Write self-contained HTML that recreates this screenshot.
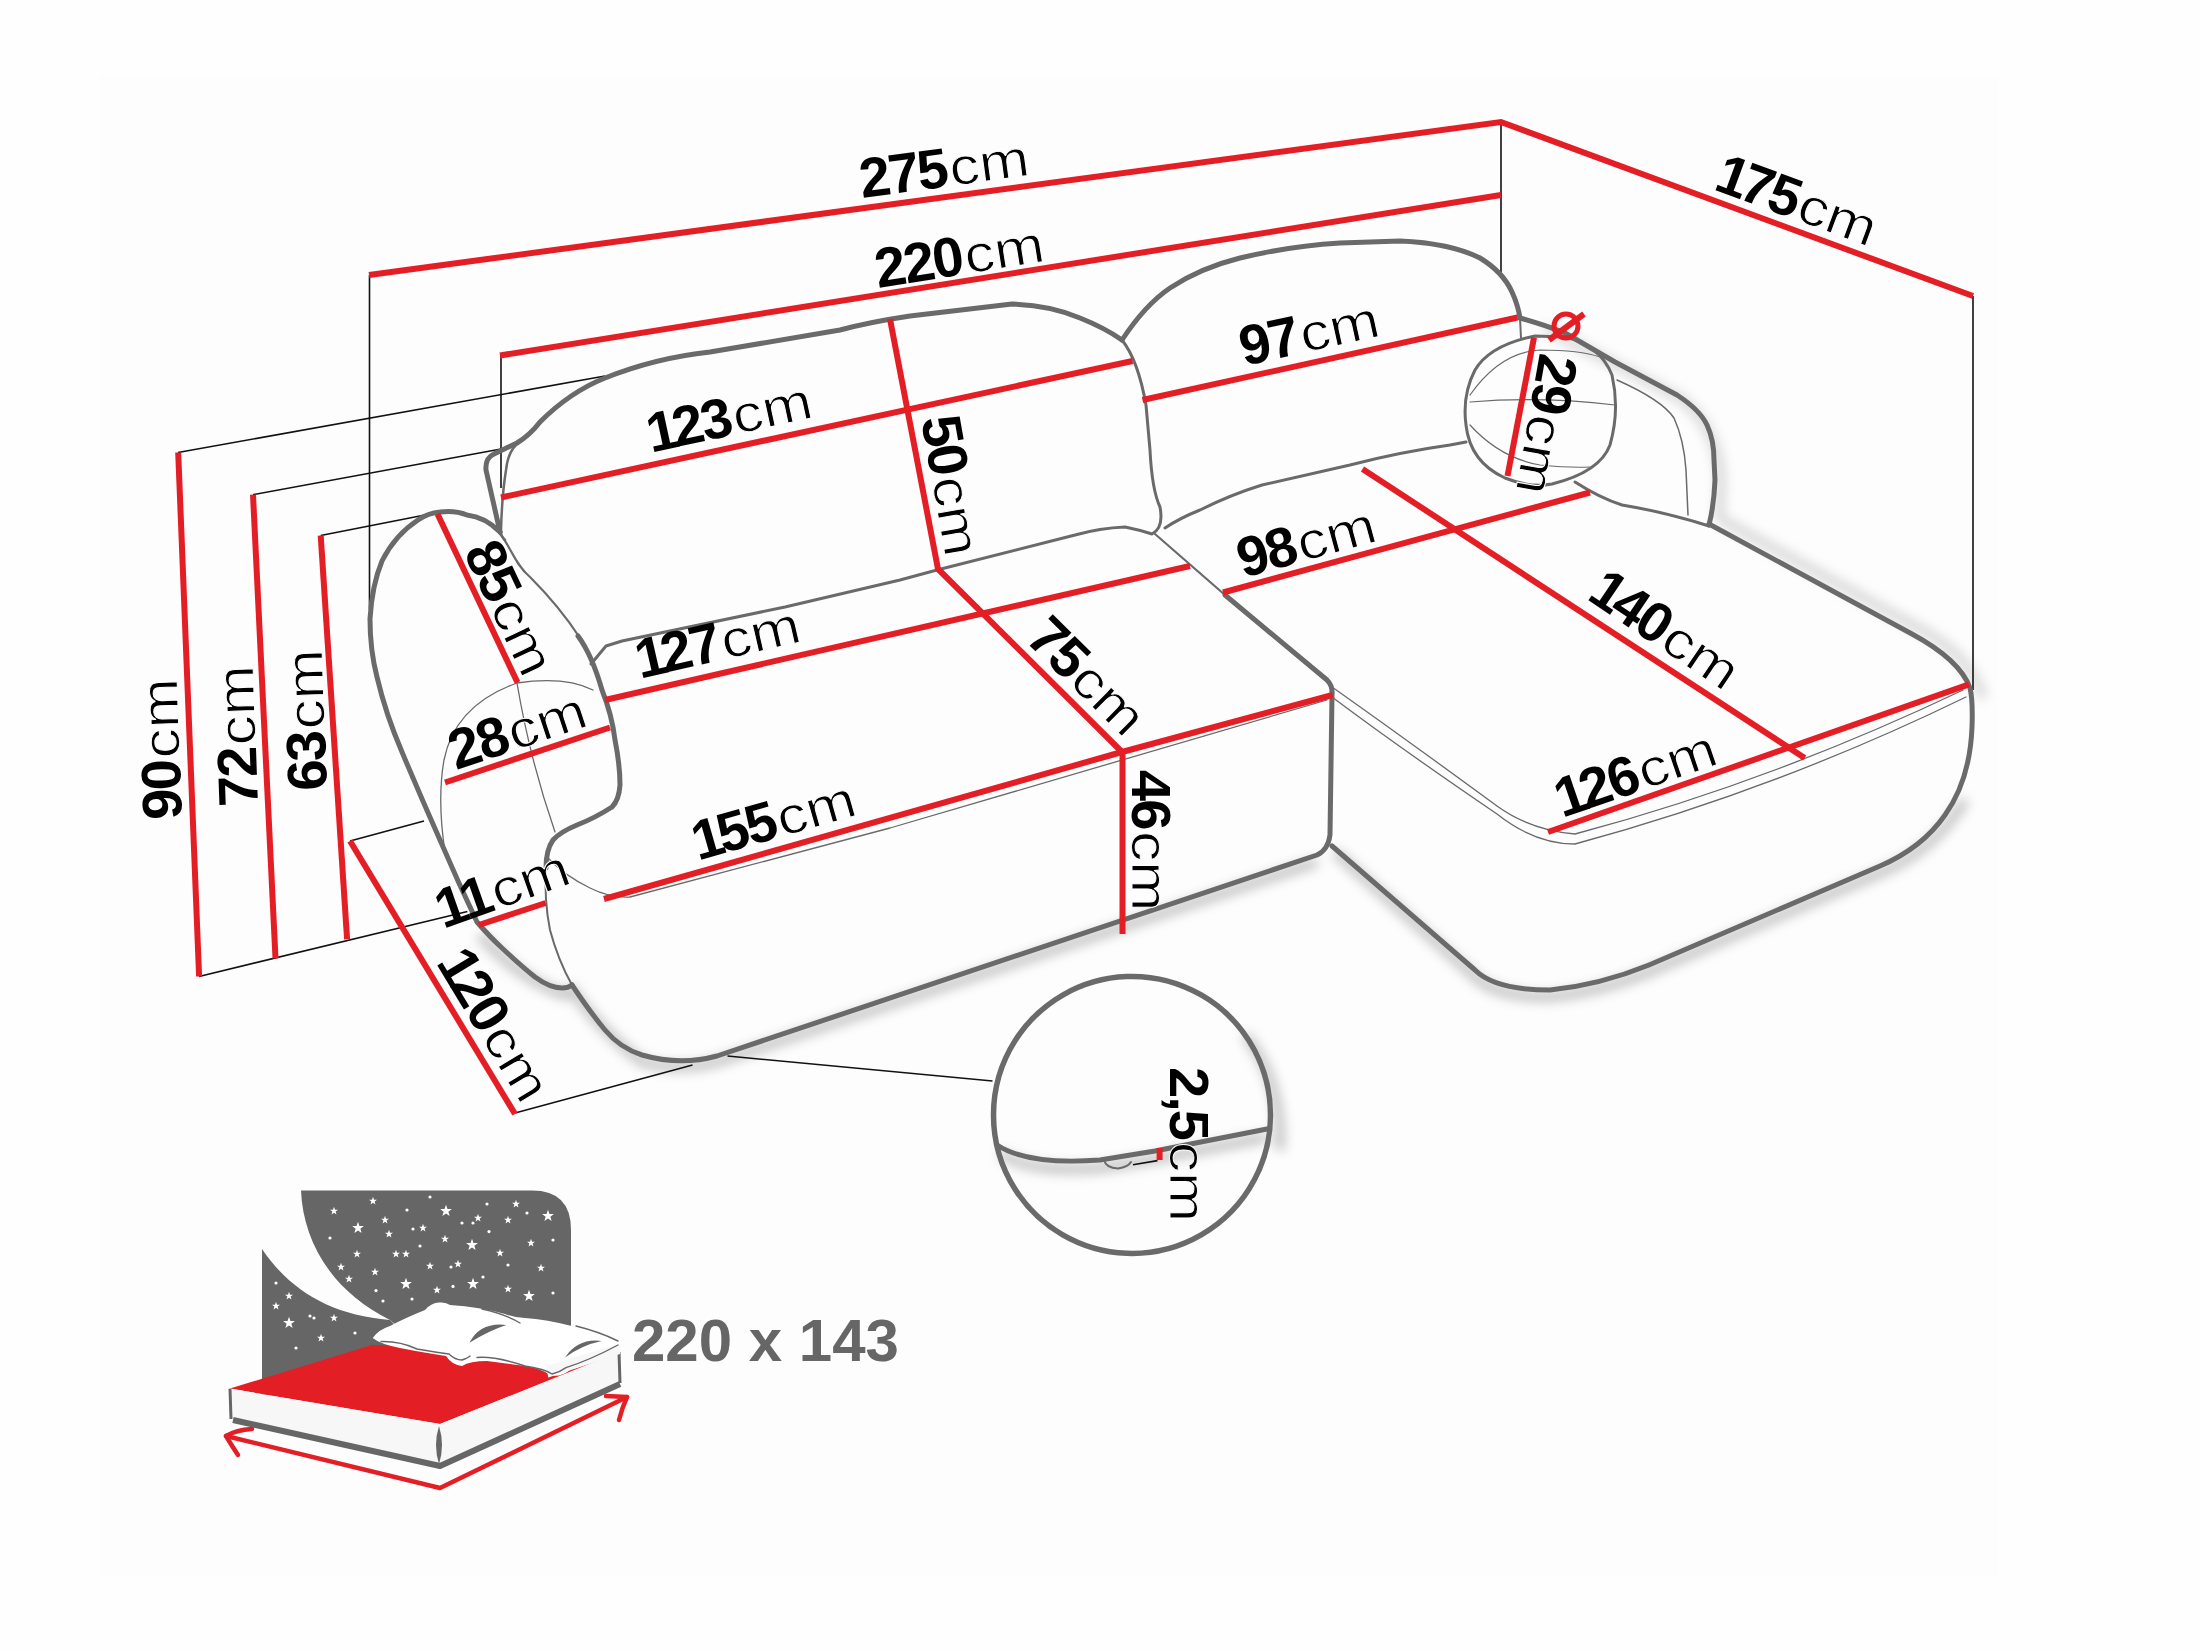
<!DOCTYPE html>
<html><head><meta charset="utf-8">
<style>
html,body{margin:0;padding:0;background:#fff;}
svg{display:block;}
</style></head>
<body>
<svg width="2200" height="1650" viewBox="0 0 2200 1650">
<defs>
<filter id="sh" x="-30%" y="-30%" width="160%" height="160%"><feGaussianBlur stdDeviation="6"/></filter>
</defs>
<rect x="0" y="0" width="2200" height="1650" fill="#fefefe"/>
<rect x="99" y="75" width="1899" height="1501" fill="#fdfdfd"/>

<g fill="none" stroke="#000" stroke-width="9" filter="url(#sh)">
<path stroke-opacity="0.25" d="M 480,935 Q 520,980 565,995 L 572,990 Q 600,1030 642,1062 Q 680,1072 717,1062 L 1317,862"/>
<path stroke-opacity="0.25" d="M 1335,852 L 1475,977 Q 1495,997 1550,997 Q 1600,992 1649,972 L 1880,873 Q 1935,850 1965,800"/>
<path stroke-opacity="0.25" d="M 1000,1153 C 1020,1168 1060,1171 1100,1168 L 1155,1159 L 1267,1137"/>
<path stroke-opacity="0.25" d="M 1245,1035 Q 1282,1080 1280,1150"/>
<path stroke-opacity="0.16" d="M 1545,328 L 1680,398 Q 1718,428 1721,480 L 1719,520"/>
<path stroke-opacity="0.16" d="M 1722,520 L 1918,628 Q 1970,655 1983,698"/>
</g>
<g stroke="#111" stroke-width="1.6" fill="none"><line x1="369.5" y1="275" x2="369.5" y2="609"/><line x1="501" y1="355" x2="501" y2="488"/><line x1="1501" y1="122" x2="1501" y2="272"/><line x1="1973" y1="296" x2="1973" y2="690"/><line x1="178" y1="452.5" x2="605" y2="376"/><line x1="253" y1="494.7" x2="501" y2="449"/><line x1="320.7" y1="535.5" x2="430" y2="514"/><line x1="199" y1="976.5" x2="467.4" y2="911.5"/><line x1="350" y1="841" x2="424" y2="821"/><line x1="515" y1="1113" x2="692.5" y2="1065"/><line x1="727.5" y1="1056" x2="992.5" y2="1081"/><line x1="1133" y1="1164.7" x2="1157.5" y2="1160.6"/></g>
<g fill="none" stroke="#6a6a6a" stroke-linecap="round" stroke-linejoin="round">
<path stroke-width="5" d="M 500,532 Q 485,517 467,515 Q 455,510 440,512 Q 428,513 418,520 Q 395,535 382,561 Q 372,585 370,619 Q 370,650 377,677 Q 386,715 402,752 Q 420,795 440,840 Q 458,882 477,922 Q 490,937 502,948 Q 520,965 535,977 Q 550,988 562,988 Q 568,988 572,985"/>
<path stroke-width="2.2" d="M 500,534 C 510,545 515,565 530,577 C 545,592 565,615 580,638"/>
<path stroke-width="5" d="M 578,636 Q 592,655 602,690 Q 612,715 615,740 Q 620,765 620,785 Q 619,800 612,807 Q 595,818 577,825 Q 560,832 553,840 Q 546,850 546,868"/>
<path stroke-width="2" d="M 546,866 Q 544,900 550,930 Q 558,960 572,985"/>
<path stroke-width="5" d="M 572,985 Q 590,1012 605,1030 Q 620,1048 642,1055 Q 680,1066 717,1056 L 1317,855 Q 1328,850 1330,835 L 1332,695 Q 1333,686 1327,680 L 1225,595"/>
<path stroke-width="2.2" d="M 1225,595 L 1155,534"/>
<path stroke-width="5" d="M 1709,524 L 1912,634 Q 1960,660 1970,688 Q 1973,700 1972,727 Q 1970,780 1945,815 Q 1922,848 1880,866 L 1649,965 Q 1600,985 1550,990 Q 1495,990 1475,970 L 1332,846"/>
<path stroke-width="5" d="M 1520,318 Q 1545,325 1565,333 L 1615,362 L 1677,395 Q 1700,410 1707,425 Q 1714,440 1714,460 L 1715,480 Q 1714,505 1709,525"/>
<path stroke-width="5" d="M 1122,340 Q 1145,305 1170,288 Q 1200,268 1240,258 Q 1290,246 1340,243 L 1400,241 Q 1450,243 1480,258 Q 1503,272 1512,292 Q 1518,305 1520,318"/>
<path stroke-width="5" d="M 500,532 L 486,470 Q 485,458 494,454 L 517,443 Q 530,435 540,422 Q 570,392 605,378 Q 655,358 710,352 L 840,330 Q 870,322 910,316 L 1012,304 Q 1050,305 1080,318 Q 1105,328 1122,340"/>
<path stroke-width="2.5" d="M 517,444 Q 508,452 506,470 Q 502,495 501,530 Q 500,535 505,540"/>
<path stroke-width="3" d="M 1122,340 Q 1138,360 1146,405 L 1150,450 Q 1152,490 1160,507 Q 1164,528 1152,534 Q 1140,530 1125,527 Q 1100,528 1075,535 L 937,570 L 900,580 Q 850,592 785,607 L 622,641 L 606,646 L 591,664"/>
<path stroke-width="3" d="M 1165,528 Q 1180,518 1200,510 Q 1230,495 1262,485 L 1350,465 Q 1400,452 1450,445 L 1466,442"/>
<path stroke-width="2" d="M 1520,318 L 1521,338"/>
<path stroke-width="1.5" d="M 1617,380 Q 1662,400 1674,418 Q 1684,440 1686,470 L 1688,515"/>
<path stroke-width="3" d="M 1575,482 Q 1600,498 1622,505 Q 1665,512 1709,526"/>
<path stroke-width="3" d="M 1535,336 Q 1490,345 1475,370 Q 1462,395 1466,425 Q 1470,462 1505,478 Q 1530,488 1552,484 Q 1600,472 1610,445 Q 1620,410 1612,375 Q 1600,345 1565,337 Z"/>
<path stroke-width="1.2" d="M 1470,402 Q 1540,396 1615,405"/>
<path stroke-width="1.2" d="M 1470,395 Q 1500,352 1540,350 Q 1580,350 1600,357"/>
<path stroke-width="1.2" d="M 1470,425 Q 1500,458 1540,465 Q 1570,468 1590,467"/>
<path stroke-width="1.3" d="M 445,852 Q 437,800 444,760 Q 455,705 517,683 Q 565,676 593,690"/>
<path stroke-width="1.3" d="M 517,683 Q 530,760 555,832"/>
<path stroke-width="1.3" d="M 547,857 Q 565,876 590,888 Q 610,898 630,897 L 890,828 L 1327,700"/>
<path stroke-width="1.3" d="M 1332,687 Q 1400,735 1497,806 Q 1530,830 1575,834 Q 1770,782 1963,690"/>
<path stroke-width="1.3" d="M 1332,697 Q 1400,748 1497,814 Q 1535,844 1575,844 Q 1775,790 1966,697"/>
<path stroke-width="5.5" d="M 1270.5,1115 A 138.5 138.5 0 1 1 1270.5,1114.9 Z"/>
<path stroke-width="5" d="M 997,1145 C 1020,1160 1060,1163 1100,1160 L 1155,1151 L 1267,1129"/>
<path stroke-width="2" d="M 1104,1160 Q 1106,1168 1118,1168.5 Q 1128,1167 1131,1162"/>
</g>
<g stroke="#e41e25" stroke-width="6" fill="none"><polyline points="369,275 1501,122 1973,296"/><line x1="500" y1="355.5" x2="1501" y2="195"/><line x1="501" y1="497.5" x2="1132.5" y2="361"/><line x1="1142.5" y1="400" x2="1517.5" y2="317.5"/><polyline points="890,319 938,569 1122,752"/><line x1="605" y1="700" x2="1190" y2="566"/><line x1="1223" y1="592.5" x2="1590" y2="492.5"/><polyline points="604,899 1122,752 1332.5,695"/><line x1="1122.5" y1="752" x2="1122.5" y2="934"/><line x1="445" y1="782.5" x2="610" y2="727.5"/><line x1="437.5" y1="514" x2="517.5" y2="682.5"/><line x1="478.8" y1="925" x2="545.6" y2="903"/><line x1="350" y1="841" x2="515" y2="1114"/><line x1="178.2" y1="452.5" x2="199.1" y2="976.5"/><line x1="253" y1="494.7" x2="275.5" y2="958.3"/><line x1="320.7" y1="535.5" x2="347.1" y2="939.2"/><line x1="1362.5" y1="469" x2="1804.7" y2="758"/><line x1="1548" y1="832" x2="1969" y2="684.4"/><line x1="1534" y1="337.5" x2="1507.5" y2="476"/><line x1="1549" y1="340" x2="1584" y2="314"/><circle cx="1566" cy="326" r="12" stroke-width="5"/><line x1="1159.6" y1="1148" x2="1159.6" y2="1160"/></g>
<g fill="#000" style="font-family:'Liberation Sans',sans-serif">
<text transform="translate(862,198) rotate(-7.7)"><tspan font-weight="bold" font-size="56" letter-spacing="-2" dx="0 0 0">275</tspan><tspan font-size="52" dx="3" textLength="80" lengthAdjust="spacingAndGlyphs" stroke="#fff" stroke-width="0.9">cm</tspan></text>
<text transform="translate(878,288) rotate(-9.1)"><tspan font-weight="bold" font-size="56" letter-spacing="-2" dx="0 0 0">220</tspan><tspan font-size="52" dx="3" textLength="80" lengthAdjust="spacingAndGlyphs" stroke="#fff" stroke-width="0.9">cm</tspan></text>
<text transform="translate(654,452) rotate(-12.2)"><tspan font-weight="bold" font-size="56" letter-spacing="-2" dx="-3 -3 0">123</tspan><tspan font-size="52" dx="3" textLength="80" lengthAdjust="spacingAndGlyphs" stroke="#fff" stroke-width="0.9">cm</tspan></text>
<text transform="translate(1244,366) rotate(-12.4)"><tspan font-weight="bold" font-size="56" letter-spacing="-2" dx="0 0">97</tspan><tspan font-size="52" dx="3" textLength="80" lengthAdjust="spacingAndGlyphs" stroke="#fff" stroke-width="0.9">cm</tspan></text>
<text transform="translate(1243,578) rotate(-15.3)"><tspan font-weight="bold" font-size="56" letter-spacing="-2" dx="0 0">98</tspan><tspan font-size="52" dx="3" textLength="80" lengthAdjust="spacingAndGlyphs" stroke="#fff" stroke-width="0.9">cm</tspan></text>
<text transform="translate(643,678) rotate(-12.9)"><tspan font-weight="bold" font-size="56" letter-spacing="-2" dx="-3 -3 0">127</tspan><tspan font-size="52" dx="3" textLength="80" lengthAdjust="spacingAndGlyphs" stroke="#fff" stroke-width="0.9">cm</tspan></text>
<text transform="translate(701,860) rotate(-16)"><tspan font-weight="bold" font-size="56" letter-spacing="-2" dx="-3 -3 0">155</tspan><tspan font-size="52" dx="3" textLength="80" lengthAdjust="spacingAndGlyphs" stroke="#fff" stroke-width="0.9">cm</tspan></text>
<text transform="translate(456,770) rotate(-18.4)"><tspan font-weight="bold" font-size="56" letter-spacing="-2" dx="0 0">28</tspan><tspan font-size="52" dx="3" textLength="80" lengthAdjust="spacingAndGlyphs" stroke="#fff" stroke-width="0.9">cm</tspan></text>
<text transform="translate(446,928) rotate(-19.5)"><tspan font-weight="bold" font-size="56" letter-spacing="-2" dx="-3 0">11</tspan><tspan font-size="52" dx="3" textLength="80" lengthAdjust="spacingAndGlyphs" stroke="#fff" stroke-width="0.9">cm</tspan></text>
<text transform="translate(1565,817) rotate(-19)"><tspan font-weight="bold" font-size="56" letter-spacing="-2" dx="-3 -3 0">126</tspan><tspan font-size="52" dx="3" textLength="80" lengthAdjust="spacingAndGlyphs" stroke="#fff" stroke-width="0.9">cm</tspan></text>
<text transform="translate(1715,190) rotate(20.3)"><tspan font-weight="bold" font-size="56" letter-spacing="-2" dx="-3 -3 0">175</tspan><tspan font-size="52" dx="3" textLength="80" lengthAdjust="spacingAndGlyphs" stroke="#fff" stroke-width="0.9">cm</tspan></text>
<text transform="translate(1588,600) rotate(34)"><tspan font-weight="bold" font-size="56" letter-spacing="-2" dx="-3 -3 0">140</tspan><tspan font-size="52" dx="3" textLength="80" lengthAdjust="spacingAndGlyphs" stroke="#fff" stroke-width="0.9">cm</tspan></text>
<text transform="translate(1024,640) rotate(44.6)"><tspan font-weight="bold" font-size="56" letter-spacing="-2" dx="0 0">75</tspan><tspan font-size="52" dx="3" textLength="80" lengthAdjust="spacingAndGlyphs" stroke="#fff" stroke-width="0.9">cm</tspan></text>
<text transform="translate(463,552) rotate(64.6)"><tspan font-weight="bold" font-size="56" letter-spacing="-2" dx="0 0">85</tspan><tspan font-size="52" dx="3" textLength="80" lengthAdjust="spacingAndGlyphs" stroke="#fff" stroke-width="0.9">cm</tspan></text>
<text transform="translate(437,965) rotate(58.9)"><tspan font-weight="bold" font-size="56" letter-spacing="-2" dx="-3 -3 0">120</tspan><tspan font-size="52" dx="3" textLength="80" lengthAdjust="spacingAndGlyphs" stroke="#fff" stroke-width="0.9">cm</tspan></text>
<text transform="translate(921,419) rotate(80)"><tspan font-weight="bold" font-size="56" letter-spacing="-2" dx="0 0">50</tspan><tspan font-size="52" dx="3" textLength="80" lengthAdjust="spacingAndGlyphs" stroke="#fff" stroke-width="0.9">cm</tspan></text>
<text transform="translate(1132,770) rotate(90)"><tspan font-weight="bold" font-size="56" letter-spacing="-2" dx="0 0">46</tspan><tspan font-size="52" dx="3" textLength="80" lengthAdjust="spacingAndGlyphs" stroke="#fff" stroke-width="0.9">cm</tspan></text>
<text transform="translate(1540,352) rotate(100)"><tspan font-weight="bold" font-size="56" letter-spacing="-2" dx="0 0">29</tspan><tspan font-size="52" dx="3" textLength="80" lengthAdjust="spacingAndGlyphs" stroke="#fff" stroke-width="0.9">cm</tspan></text>
<text transform="translate(1170,1067) rotate(90)"><tspan font-weight="bold" font-size="56" letter-spacing="-2" dx="0 0 0">2,5</tspan><tspan font-size="52" dx="3" textLength="80" lengthAdjust="spacingAndGlyphs" stroke="#fff" stroke-width="0.9">cm</tspan></text>
<text transform="translate(182,819) rotate(-92)"><tspan font-weight="bold" font-size="56" letter-spacing="-2" dx="0 0">90</tspan><tspan font-size="52" dx="3" textLength="80" lengthAdjust="spacingAndGlyphs" stroke="#fff" stroke-width="0.9">cm</tspan></text>
<text transform="translate(258,806) rotate(-92)"><tspan font-weight="bold" font-size="56" letter-spacing="-2" dx="0 0">72</tspan><tspan font-size="52" dx="3" textLength="80" lengthAdjust="spacingAndGlyphs" stroke="#fff" stroke-width="0.9">cm</tspan></text>
<text transform="translate(327,790) rotate(-92)"><tspan font-weight="bold" font-size="56" letter-spacing="-2" dx="0 0">63</tspan><tspan font-size="52" dx="3" textLength="80" lengthAdjust="spacingAndGlyphs" stroke="#fff" stroke-width="0.9">cm</tspan></text>
</g>
<g id="bed">
<path fill="#666" d="M 301,1190.6 L 532,1190.6 Q 571,1190.6 571,1230 L 571,1345 L 420,1345 L 390,1320 C 330,1290 303,1240 301,1190.6 Z"/>
<path fill="#666" d="M 262,1249 C 290,1290 330,1315 390,1320 L 400,1330 L 400,1395 L 262,1395 Z"/>
<g fill="#fff">
<path transform="translate(358.0,1228.0)" d="M0.00,-6.20 L1.46,-2.01 L5.90,-1.92 L2.36,0.77 L3.64,5.02 L0.00,2.48 L-3.64,5.02 L-2.36,0.77 L-5.90,-1.92 L-1.46,-2.01Z"/>
<path transform="translate(446.0,1211.0)" d="M0.00,-6.20 L1.46,-2.01 L5.90,-1.92 L2.36,0.77 L3.64,5.02 L0.00,2.48 L-3.64,5.02 L-2.36,0.77 L-5.90,-1.92 L-1.46,-2.01Z"/>
<path transform="translate(548.0,1216.0)" d="M0.00,-6.20 L1.46,-2.01 L5.90,-1.92 L2.36,0.77 L3.64,5.02 L0.00,2.48 L-3.64,5.02 L-2.36,0.77 L-5.90,-1.92 L-1.46,-2.01Z"/>
<path transform="translate(472.0,1245.0)" d="M0.00,-6.20 L1.46,-2.01 L5.90,-1.92 L2.36,0.77 L3.64,5.02 L0.00,2.48 L-3.64,5.02 L-2.36,0.77 L-5.90,-1.92 L-1.46,-2.01Z"/>
<path transform="translate(406.0,1284.0)" d="M0.00,-6.20 L1.46,-2.01 L5.90,-1.92 L2.36,0.77 L3.64,5.02 L0.00,2.48 L-3.64,5.02 L-2.36,0.77 L-5.90,-1.92 L-1.46,-2.01Z"/>
<path transform="translate(473.0,1284.0)" d="M0.00,-6.20 L1.46,-2.01 L5.90,-1.92 L2.36,0.77 L3.64,5.02 L0.00,2.48 L-3.64,5.02 L-2.36,0.77 L-5.90,-1.92 L-1.46,-2.01Z"/>
<path transform="translate(529.0,1296.0)" d="M0.00,-6.20 L1.46,-2.01 L5.90,-1.92 L2.36,0.77 L3.64,5.02 L0.00,2.48 L-3.64,5.02 L-2.36,0.77 L-5.90,-1.92 L-1.46,-2.01Z"/>
<path transform="translate(289.0,1323.0)" d="M0.00,-6.20 L1.46,-2.01 L5.90,-1.92 L2.36,0.77 L3.64,5.02 L0.00,2.48 L-3.64,5.02 L-2.36,0.77 L-5.90,-1.92 L-1.46,-2.01Z"/>
<path transform="translate(334.0,1211.0)" d="M0.00,-4.20 L0.99,-1.36 L3.99,-1.30 L1.60,0.52 L2.47,3.40 L0.00,1.68 L-2.47,3.40 L-1.60,0.52 L-3.99,-1.30 L-0.99,-1.36Z"/>
<path transform="translate(373.0,1201.0)" d="M0.00,-4.20 L0.99,-1.36 L3.99,-1.30 L1.60,0.52 L2.47,3.40 L0.00,1.68 L-2.47,3.40 L-1.60,0.52 L-3.99,-1.30 L-0.99,-1.36Z"/>
<path transform="translate(385.0,1220.0)" d="M0.00,-4.20 L0.99,-1.36 L3.99,-1.30 L1.60,0.52 L2.47,3.40 L0.00,1.68 L-2.47,3.40 L-1.60,0.52 L-3.99,-1.30 L-0.99,-1.36Z"/>
<path transform="translate(389.0,1234.0)" d="M0.00,-4.20 L0.99,-1.36 L3.99,-1.30 L1.60,0.52 L2.47,3.40 L0.00,1.68 L-2.47,3.40 L-1.60,0.52 L-3.99,-1.30 L-0.99,-1.36Z"/>
<path transform="translate(423.0,1228.0)" d="M0.00,-4.20 L0.99,-1.36 L3.99,-1.30 L1.60,0.52 L2.47,3.40 L0.00,1.68 L-2.47,3.40 L-1.60,0.52 L-3.99,-1.30 L-0.99,-1.36Z"/>
<path transform="translate(445.0,1239.0)" d="M0.00,-4.20 L0.99,-1.36 L3.99,-1.30 L1.60,0.52 L2.47,3.40 L0.00,1.68 L-2.47,3.40 L-1.60,0.52 L-3.99,-1.30 L-0.99,-1.36Z"/>
<path transform="translate(478.0,1218.0)" d="M0.00,-4.20 L0.99,-1.36 L3.99,-1.30 L1.60,0.52 L2.47,3.40 L0.00,1.68 L-2.47,3.40 L-1.60,0.52 L-3.99,-1.30 L-0.99,-1.36Z"/>
<path transform="translate(508.0,1220.0)" d="M0.00,-4.20 L0.99,-1.36 L3.99,-1.30 L1.60,0.52 L2.47,3.40 L0.00,1.68 L-2.47,3.40 L-1.60,0.52 L-3.99,-1.30 L-0.99,-1.36Z"/>
<path transform="translate(516.0,1204.0)" d="M0.00,-4.20 L0.99,-1.36 L3.99,-1.30 L1.60,0.52 L2.47,3.40 L0.00,1.68 L-2.47,3.40 L-1.60,0.52 L-3.99,-1.30 L-0.99,-1.36Z"/>
<path transform="translate(531.0,1243.0)" d="M0.00,-4.20 L0.99,-1.36 L3.99,-1.30 L1.60,0.52 L2.47,3.40 L0.00,1.68 L-2.47,3.40 L-1.60,0.52 L-3.99,-1.30 L-0.99,-1.36Z"/>
<path transform="translate(357.0,1254.0)" d="M0.00,-4.20 L0.99,-1.36 L3.99,-1.30 L1.60,0.52 L2.47,3.40 L0.00,1.68 L-2.47,3.40 L-1.60,0.52 L-3.99,-1.30 L-0.99,-1.36Z"/>
<path transform="translate(396.0,1254.0)" d="M0.00,-4.20 L0.99,-1.36 L3.99,-1.30 L1.60,0.52 L2.47,3.40 L0.00,1.68 L-2.47,3.40 L-1.60,0.52 L-3.99,-1.30 L-0.99,-1.36Z"/>
<path transform="translate(406.0,1254.0)" d="M0.00,-4.20 L0.99,-1.36 L3.99,-1.30 L1.60,0.52 L2.47,3.40 L0.00,1.68 L-2.47,3.40 L-1.60,0.52 L-3.99,-1.30 L-0.99,-1.36Z"/>
<path transform="translate(430.0,1266.0)" d="M0.00,-4.20 L0.99,-1.36 L3.99,-1.30 L1.60,0.52 L2.47,3.40 L0.00,1.68 L-2.47,3.40 L-1.60,0.52 L-3.99,-1.30 L-0.99,-1.36Z"/>
<path transform="translate(458.0,1264.0)" d="M0.00,-4.20 L0.99,-1.36 L3.99,-1.30 L1.60,0.52 L2.47,3.40 L0.00,1.68 L-2.47,3.40 L-1.60,0.52 L-3.99,-1.30 L-0.99,-1.36Z"/>
<path transform="translate(500.0,1253.0)" d="M0.00,-4.20 L0.99,-1.36 L3.99,-1.30 L1.60,0.52 L2.47,3.40 L0.00,1.68 L-2.47,3.40 L-1.60,0.52 L-3.99,-1.30 L-0.99,-1.36Z"/>
<path transform="translate(541.0,1268.0)" d="M0.00,-4.20 L0.99,-1.36 L3.99,-1.30 L1.60,0.52 L2.47,3.40 L0.00,1.68 L-2.47,3.40 L-1.60,0.52 L-3.99,-1.30 L-0.99,-1.36Z"/>
<path transform="translate(341.0,1267.0)" d="M0.00,-4.20 L0.99,-1.36 L3.99,-1.30 L1.60,0.52 L2.47,3.40 L0.00,1.68 L-2.47,3.40 L-1.60,0.52 L-3.99,-1.30 L-0.99,-1.36Z"/>
<path transform="translate(375.0,1272.0)" d="M0.00,-4.20 L0.99,-1.36 L3.99,-1.30 L1.60,0.52 L2.47,3.40 L0.00,1.68 L-2.47,3.40 L-1.60,0.52 L-3.99,-1.30 L-0.99,-1.36Z"/>
<path transform="translate(349.0,1279.0)" d="M0.00,-4.20 L0.99,-1.36 L3.99,-1.30 L1.60,0.52 L2.47,3.40 L0.00,1.68 L-2.47,3.40 L-1.60,0.52 L-3.99,-1.30 L-0.99,-1.36Z"/>
<path transform="translate(437.0,1290.0)" d="M0.00,-4.20 L0.99,-1.36 L3.99,-1.30 L1.60,0.52 L2.47,3.40 L0.00,1.68 L-2.47,3.40 L-1.60,0.52 L-3.99,-1.30 L-0.99,-1.36Z"/>
<path transform="translate(508.0,1289.0)" d="M0.00,-4.20 L0.99,-1.36 L3.99,-1.30 L1.60,0.52 L2.47,3.40 L0.00,1.68 L-2.47,3.40 L-1.60,0.52 L-3.99,-1.30 L-0.99,-1.36Z"/>
<path transform="translate(289.0,1296.0)" d="M0.00,-4.20 L0.99,-1.36 L3.99,-1.30 L1.60,0.52 L2.47,3.40 L0.00,1.68 L-2.47,3.40 L-1.60,0.52 L-3.99,-1.30 L-0.99,-1.36Z"/>
<path transform="translate(276.0,1306.0)" d="M0.00,-4.20 L0.99,-1.36 L3.99,-1.30 L1.60,0.52 L2.47,3.40 L0.00,1.68 L-2.47,3.40 L-1.60,0.52 L-3.99,-1.30 L-0.99,-1.36Z"/>
<path transform="translate(334.0,1318.0)" d="M0.00,-4.20 L0.99,-1.36 L3.99,-1.30 L1.60,0.52 L2.47,3.40 L0.00,1.68 L-2.47,3.40 L-1.60,0.52 L-3.99,-1.30 L-0.99,-1.36Z"/>
<path transform="translate(321.0,1338.0)" d="M0.00,-4.20 L0.99,-1.36 L3.99,-1.30 L1.60,0.52 L2.47,3.40 L0.00,1.68 L-2.47,3.40 L-1.60,0.52 L-3.99,-1.30 L-0.99,-1.36Z"/>
<circle cx="430.0" cy="1197.0" r="1.6"/>
<circle cx="407.0" cy="1210.0" r="1.6"/>
<circle cx="487.0" cy="1204.0" r="1.6"/>
<circle cx="527.0" cy="1213.0" r="1.6"/>
<circle cx="462.0" cy="1223.0" r="1.6"/>
<circle cx="473.0" cy="1223.0" r="1.6"/>
<circle cx="413.0" cy="1229.0" r="1.6"/>
<circle cx="489.0" cy="1231.6" r="1.6"/>
<circle cx="330.0" cy="1238.0" r="1.6"/>
<circle cx="420.0" cy="1246.0" r="1.6"/>
<circle cx="553.0" cy="1240.0" r="1.6"/>
<circle cx="508.0" cy="1265.0" r="1.6"/>
<circle cx="451.0" cy="1267.0" r="1.6"/>
<circle cx="483.0" cy="1277.0" r="1.6"/>
<circle cx="453.0" cy="1286.4" r="1.6"/>
<circle cx="376.0" cy="1290.6" r="1.6"/>
<circle cx="412.0" cy="1299.0" r="1.6"/>
<circle cx="383.0" cy="1301.0" r="1.6"/>
<circle cx="553.0" cy="1293.0" r="1.6"/>
<circle cx="276.0" cy="1283.0" r="1.6"/>
<circle cx="310.0" cy="1316.0" r="1.6"/>
<circle cx="314.0" cy="1318.0" r="1.6"/>
<circle cx="355.0" cy="1333.0" r="1.6"/>
<circle cx="296.0" cy="1348.0" r="1.6"/>
</g>
<path fill="#e41e25" d="M 230,1388.6 L 372,1345 L 618,1353 L 440,1424 Z"/>
<path fill="#f7f7f7" d="M 230,1388.6 L 440,1424 L 440,1466 L 231,1419 Z"/>
<path fill="#f7f7f7" d="M 440,1424 L 619,1352 L 620,1383 L 440,1466 Z"/>
<path fill="none" stroke="#666" stroke-width="3" d="M 230,1388.6 L 231,1419 M 619,1352 L 620,1383"/>
<path fill="none" stroke="#666" stroke-width="6" stroke-linejoin="round" d="M 233,1420 L 440,1466 L 620,1384"/>
<path fill="#666" d="M 439,1426 Q 445,1445 439,1464 Q 433,1445 439,1426 Z"/>
<path fill="#fff" d="M 372.7,1338 Q 378,1330 390,1326 Q 405,1318 425,1310 Q 432,1302 440,1302.5 Q 446,1302 450,1305 Q 480,1307 505,1314 Q 515,1318 525,1318 Q 545,1319 576,1327 Q 600,1333 615,1338 Q 623,1340 621,1345 Q 610,1355 595,1360 Q 580,1364 570,1370 Q 560,1378 550,1375 Q 540,1368 525,1366 L 487,1361 Q 470,1361 462,1366 Q 452,1365 446,1356 Q 420,1352 400,1348 Q 380,1344 372.7,1338 Z"/>
<path fill="#f7f7f7" d="M 546,1366 L 621,1343 L 620,1354 L 548.3,1377.5 Z"/>
<g fill="none" stroke="#666" stroke-width="1.4" stroke-linecap="round">
<path d="M 381,1341.5 Q 400,1341 417,1349 Q 440,1353 449,1354 Q 455,1360 462,1360 Q 468,1358 470,1356"/>
<path d="M 477,1357.5 Q 495,1356 525,1366 Q 545,1369 552,1374 Q 560,1372 566,1367.6 Q 590,1360 618,1345"/>
<path d="M 482,1309 Q 505,1314 520,1323"/>
<path d="M 576,1326 Q 600,1332 618,1341"/>
</g>
<path fill="#666" d="M 469.5,1342.8 Q 480,1322 506.4,1325 Q 488,1331 469.5,1342.8 Z"/>
<path fill="#666" d="M 565,1357.5 Q 578,1338 601.8,1341 Q 582,1345 565,1357.5 Z"/>
<g fill="none" stroke="#e41e25" stroke-width="4.5" stroke-linecap="round" stroke-linejoin="round">
<path d="M 226,1436 L 440,1488 L 627,1397"/>
<path d="M 252,1429 Q 236,1430 226,1436 Q 232,1446 238,1455"/>
<path d="M 606,1396 L 627,1397 Q 622,1408 619,1420"/>
</g>
</g>
<text x="632" y="1360.5" fill="#666" font-family="Liberation Sans, sans-serif" font-weight="bold" font-size="60">220 x 143</text>
</svg>
</body></html>
